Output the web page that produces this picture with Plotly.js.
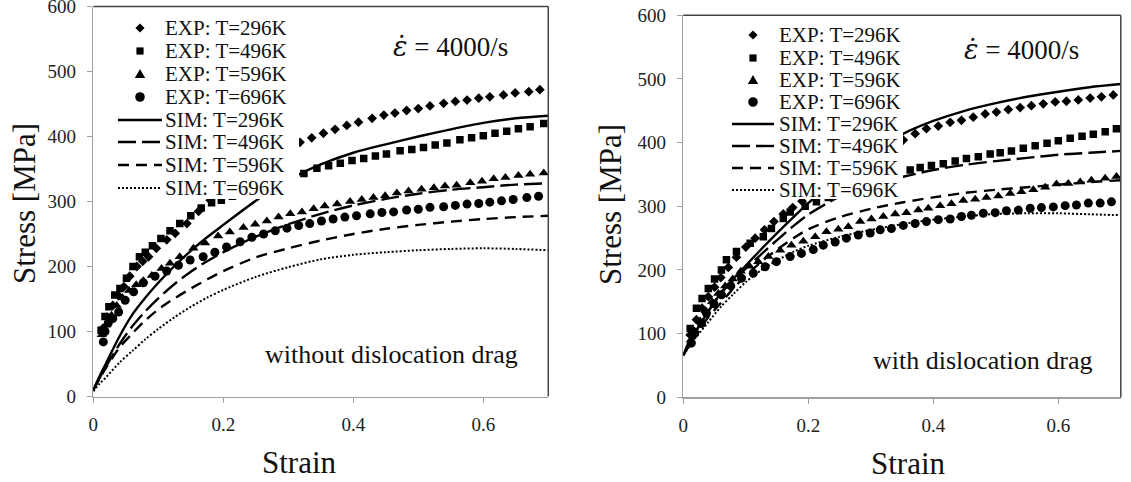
<!DOCTYPE html>
<html>
<head>
<meta charset="utf-8">
<script src="https://cdn.plot.ly/plotly-3.0.1.min.js"></script>
<style>
  html, body { margin: 0; padding: 0; background: #fff; }
  #chart { width: 1131px; height: 482px; }
</style>
</head>
<body>
<div id="chart"></div>
<script>
// ---- Flow stress of the alloy at 4000/s: experiments vs. simulation ----

const temps = ['296K', '496K', '596K', '696K'];

// Simulation curves share one strain grid
const simStrain = [0, 0.01, 0.02, 0.04, 0.06, 0.08, 0.10, 0.125, 0.15, 0.175, 0.2,
                   0.25, 0.3, 0.35, 0.4, 0.45, 0.5, 0.55, 0.6, 0.65, 0.7];

// Left panel: without dislocation drag
const simL296 = [10, 32, 52, 92, 126, 152, 175, 201, 224, 245, 264, 301, 333, 357, 375, 388, 400, 411, 421, 428, 432];
const simL496 = [10, 29, 47, 80, 108, 131, 151, 173, 192, 208, 222, 246, 265, 281, 294, 304, 312, 318, 322, 326, 328];
const simL596 = [10, 28, 45, 75, 97, 117, 134, 151, 166, 180, 193, 214, 228, 240, 250, 258, 264, 269, 273, 276, 278];
const simL696 = [8, 20, 30, 52, 70, 88, 104, 122, 138, 152, 164, 184, 199, 211, 218, 222, 225, 227, 228, 227, 225];

// Right panel: with dislocation drag
const simR296 = [66, 89, 104, 135, 164, 186, 207, 233, 258, 282, 305, 348, 383, 413, 434, 450, 462, 472, 480, 487, 492];
const simR496 = [66, 86, 103, 135, 163, 184, 202, 225, 247, 268, 287, 315, 333, 346, 357, 365, 371, 376, 381, 384, 387];
const simR596 = [66, 82, 97, 126, 148, 171, 191, 213, 232, 249, 264, 283, 296, 306, 314, 321, 326, 330, 334, 338, 341];
const simR696 = [66, 80, 94, 118, 142, 162, 181, 200, 215, 228, 238, 252, 263, 272, 279, 284, 288, 289, 289, 287.5, 286];

// Experimental points (same data in both panels)
const expL296x = [0.015, 0.021, 0.030, 0.039, 0.047, 0.056, 0.067, 0.076, 0.085, 0.097, 0.113, 0.126, 0.144, 0.162, 0.180,
                  0.197, 0.214, 0.231, 0.248, 0.265, 0.283, 0.300, 0.318, 0.336, 0.354, 0.372, 0.390, 0.408, 0.429, 0.447,
                  0.464, 0.482, 0.500, 0.518, 0.539, 0.557, 0.575, 0.593, 0.610, 0.631, 0.649, 0.670, 0.687];
const expL296y = [105, 122, 140, 155, 169, 185, 200, 208, 215, 228, 241, 251, 266, 285, 302,
                  318, 330, 342, 352, 362, 372, 382, 391, 398, 405, 411, 417, 422, 428, 433,
                  436, 440, 443, 447, 451, 454, 456, 459, 461, 464, 467, 469, 472];

const expL496x = [0.012, 0.018, 0.024, 0.033, 0.041, 0.051, 0.061, 0.071, 0.080, 0.091, 0.104, 0.118, 0.133, 0.150, 0.166,
                  0.182, 0.197, 0.214, 0.232, 0.250, 0.268, 0.286, 0.305, 0.324, 0.344, 0.362, 0.380, 0.398, 0.416, 0.434,
                  0.451, 0.472, 0.490, 0.508, 0.526, 0.544, 0.564, 0.582, 0.600, 0.618, 0.636, 0.654, 0.672, 0.693];
const expL496y = [102, 123, 138, 156, 166, 182, 200, 215, 222, 232, 243, 255, 266, 278, 290,
                  298, 302, 308, 314, 320, 326, 332, 338, 343, 351, 355, 359, 363, 366, 370,
                  373, 378, 380, 383, 387, 390, 395, 398, 401, 405, 408, 412, 415, 420];

const expL596x = [0.013, 0.020, 0.028, 0.036, 0.045, 0.055, 0.066, 0.077, 0.090, 0.105, 0.118, 0.133, 0.154, 0.172,
                  0.192, 0.210, 0.231, 0.249, 0.267, 0.285, 0.303, 0.321, 0.339, 0.356, 0.375, 0.395, 0.413, 0.431,
                  0.449, 0.467, 0.485, 0.505, 0.524, 0.541, 0.559, 0.580, 0.598, 0.616, 0.634, 0.654, 0.672, 0.693];
const expL596y = [95, 110, 125, 140, 152, 163, 172, 178, 186, 197, 205, 215, 228, 236,
                  247, 253, 260, 265, 270, 276, 281, 284, 289, 293, 296, 300, 303, 306,
                  309, 313, 316, 319, 321, 324, 325, 329, 331, 335, 337, 340, 342, 344];

const expL696x = [0.0154, 0.018, 0.023, 0.030, 0.039, 0.049, 0.062, 0.077, 0.095, 0.113, 0.131, 0.149, 0.169, 0.187,
                  0.205, 0.226, 0.244, 0.262, 0.280, 0.298, 0.316, 0.333, 0.351, 0.369, 0.387, 0.405, 0.426, 0.444,
                  0.462, 0.482, 0.500, 0.518, 0.539, 0.557, 0.575, 0.593, 0.610, 0.628, 0.646, 0.667, 0.685];
const expL696y = [84, 100, 113, 120, 130, 148, 161, 175, 185, 193, 202, 210, 215, 222,
                  230, 238, 245, 250, 255, 259, 263, 266, 270, 273, 276, 278, 281, 283,
                  284, 287, 288, 291, 292, 294, 296, 297, 299, 301, 303, 306, 308];

const expR296x = [0.011, 0.021, 0.030, 0.040, 0.050, 0.060, 0.072, 0.085, 0.100, 0.115, 0.130, 0.145, 0.160, 0.175,
                  0.190, 0.207, 0.225, 0.243, 0.261, 0.279, 0.297, 0.315, 0.334, 0.352, 0.371, 0.389, 0.408, 0.427,
                  0.445, 0.464, 0.483, 0.501, 0.520, 0.539, 0.557, 0.576, 0.595, 0.613, 0.632, 0.651, 0.669, 0.688];
const expR296y = [98, 122, 140, 158, 173, 188, 204, 220, 236, 250, 263, 276, 288, 298,
                  308, 321, 333, 345, 356, 367, 377, 387, 396, 404, 414, 422, 426, 432,
                  435, 440, 445, 448, 452, 455, 458, 461, 464, 465, 467, 470, 472, 475];

const expR496x = [0.011, 0.021, 0.030, 0.040, 0.050, 0.061, 0.069, 0.085, 0.107, 0.128, 0.141, 0.160, 0.171, 0.195,
                  0.213, 0.232, 0.250, 0.269, 0.288, 0.307, 0.326, 0.344, 0.363, 0.379, 0.397, 0.416, 0.435, 0.453,
                  0.472, 0.491, 0.507, 0.525, 0.544, 0.563, 0.582, 0.600, 0.619, 0.638, 0.656, 0.675, 0.693];
const expR496y = [108, 140, 155, 171, 186, 200, 216, 229, 242, 252, 265, 281, 291, 300,
                  307, 314, 320, 326, 333, 340, 346, 352, 357, 361, 364, 367, 371, 375,
                  378, 382, 384, 387, 391, 395, 399, 403, 407, 410, 413, 417, 422];

const expR596x = [0.012, 0.018, 0.027, 0.036, 0.046, 0.056, 0.067, 0.079, 0.092, 0.106, 0.120, 0.136, 0.155, 0.173,
                  0.192, 0.211, 0.229, 0.248, 0.264, 0.283, 0.301, 0.320, 0.339, 0.357, 0.376, 0.392, 0.411, 0.429,
                  0.448, 0.467, 0.485, 0.504, 0.523, 0.541, 0.560, 0.579, 0.597, 0.616, 0.635, 0.653, 0.675, 0.693];
const expR596y = [90, 104, 120, 136, 150, 163, 175, 186, 198, 206, 213, 221, 231, 239,
                  245, 252, 260, 264, 268, 276, 280, 284, 288, 290, 294, 297, 301, 304,
                  309, 311, 314, 316, 320, 323, 326, 330, 335, 336, 338, 341, 344, 347];

const expR696x = [0.0128, 0.018, 0.029, 0.037, 0.049, 0.061, 0.076, 0.093, 0.112, 0.131, 0.149, 0.171, 0.189, 0.208,
                  0.224, 0.243, 0.261, 0.280, 0.299, 0.315, 0.333, 0.352, 0.371, 0.389, 0.408, 0.427, 0.445, 0.461,
                  0.480, 0.499, 0.517, 0.536, 0.555, 0.573, 0.592, 0.611, 0.629, 0.648, 0.667, 0.685];
const expR696y = [85, 100, 116, 132, 147, 161, 175, 187, 195, 205, 213, 221, 226, 232,
                  239, 244, 250, 255, 258, 263, 265, 270, 273, 276, 279, 280, 284, 286,
                  289, 290, 293, 294, 297, 298, 299, 301, 302, 305, 305, 307];

const xTickVals = [0, 0.2, 0.4, 0.6];
const xTickText = ['0', '0.2', '0.4', '0.6'];
const yTickVals = [0, 100, 200, 300, 400, 500, 600];
const yTickText = ['0', '100', '200', '300', '400', '500', '600'];

// ---- styling ----
const W = 1131, H = 482;
const px = x => x / W;            // pixel -> paper x
const py = y => 1 - y / H;        // pixel -> paper y
const SERIF = "'Liberation Serif', 'Times New Roman', serif";
const INK = '#111111';

const symbols = ['diamond', 'square', 'triangle-up', 'circle'];
const mSizes  = [7.5, 7.5, 9, 9];
const dashes  = ['solid', '18px,6px', '11px,7px', '2px,2px'];
const widths  = [2.4, 2.4, 2.4, 2];

// plot-area frames in pixels
const frames = [
  { x0: 93.3, x1: 548.3, y0: 396.5, y1: 6.5 },
  { x0: 683.3, x1: 1120.8, y0: 397.3, y1: 15.3 }
];

const panels = [
  { sims: [simL296, simL496, simL596, simL696],
    exps: [[expL296x, expL296y], [expL496x, expL496y], [expL596x, expL596y], [expL696x, expL696y]] },
  { sims: [simR296, simR496, simR596, simR696],
    exps: [[expR296x, expR296y], [expR496x, expR496y], [expR596x, expR596y], [expR696x, expR696y]] }
];

const traces = [];
panels.forEach((p, k) => {
  const xa = k === 0 ? 'x' : 'x2', ya = k === 0 ? 'y' : 'y2';
  p.sims.forEach((ys, i) => traces.push({
    type: 'scatter', mode: 'lines', x: simStrain, y: ys, xaxis: xa, yaxis: ya,
    name: 'SIM: T=' + temps[i], showlegend: false, hoverinfo: 'skip',
    line: { color: '#000', width: widths[i], dash: dashes[i], shape: 'spline', smoothing: 0.8 }
  }));
  p.exps.forEach((xy, i) => traces.push({
    type: 'scatter', mode: 'markers', x: xy[0], y: xy[1], xaxis: xa, yaxis: ya,
    name: 'EXP: T=' + temps[i], showlegend: false, hoverinfo: 'skip',
    marker: { symbol: symbols[i], size: mSizes[i], color: '#000', line: { width: 0 } }
  }));
});

function axisPair(f, suffix) {
  const common = {
    showgrid: false, zeroline: false, showline: true, linecolor: '#a0a0a0', linewidth: 1.5,
    ticks: 'outside', ticklen: 5, tickwidth: 1, tickcolor: '#a0a0a0', ticklabeloverflow: 'allow',
    tickfont: { family: SERIF, size: 19, color: '#222' }, fixedrange: true
  };
  return {
    ['xaxis' + suffix]: Object.assign({}, common, {
      domain: [px(f.x0), px(f.x1)], range: [0, 0.7], tickvals: xTickVals, ticktext: xTickText,
      anchor: 'y' + suffix, ticklabelstandoff: 5
    }),
    ['yaxis' + suffix]: Object.assign({}, common, {
      domain: [py(f.y0), py(f.y1)], range: [0, 600], tickvals: yTickVals, ticktext: yTickText,
      anchor: 'x' + suffix, ticklabelstandoff: 7
    })
  };
}

const shapes = [];
const annotations = [];

// dark top / right frame edges
['', '2'].forEach(s => {
  const xr = 'x' + s + ' domain', yr = 'y' + s + ' domain';
  shapes.push({ type: 'line', xref: xr, yref: yr, x0: 0, x1: 1, y0: 1, y1: 1, line: { color: '#444', width: 1.5 } });
  shapes.push({ type: 'line', xref: xr, yref: yr, x0: 1, x1: 1, y0: 0, y1: 1, line: { color: '#444', width: 1.5 } });
});

// key boxes (white, covering points underneath)
const keys = [
  { bg: [114, 299, 14, 199], line: [118, 162], mark: 140, text: 163, rows: [28, 51, 74, 97, 120, 142, 165, 188] },
  { bg: [727, 903, 22, 199], line: [732, 774], mark: 753, text: 777, rows: [35, 58, 80, 102, 124, 146, 168, 190] }
];

function markShape(kind, cx, cy) {
  const base = { xref: 'paper', yref: 'paper', layer: 'above', fillcolor: '#000', line: { width: 0 } };
  if (kind === 'circle') {
    const r = 4.8;
    return Object.assign(base, { type: 'circle', x0: px(cx - r), x1: px(cx + r), y0: py(cy + r), y1: py(cy - r) });
  }
  if (kind === 'square') {
    const r = 3.6;
    return Object.assign(base, { type: 'rect', x0: px(cx - r), x1: px(cx + r), y0: py(cy + r), y1: py(cy - r) });
  }
  let pts;
  if (kind === 'diamond') {
    const r = 4.6;
    pts = [[cx, cy - r], [cx + r, cy], [cx, cy + r], [cx - r, cy]];
  } else {
    pts = [[cx, cy - 5], [cx + 5.2, cy + 4], [cx - 5.2, cy + 4]];
  }
  const path = 'M' + pts.map(p => px(p[0]) + ',' + py(p[1])).join('L') + 'Z';
  return Object.assign(base, { type: 'path', path: path });
}

keys.forEach(k => {
  shapes.push({ type: 'rect', xref: 'paper', yref: 'paper', layer: 'above',
    x0: px(k.bg[0]), x1: px(k.bg[1]), y0: py(k.bg[3]), y1: py(k.bg[2]),
    fillcolor: '#fff', line: { width: 0 } });
  temps.forEach((t, i) => {
    const yE = k.rows[i], yS = k.rows[i + 4];
    shapes.push(markShape(symbols[i] === 'triangle-up' ? 'triangle' : symbols[i], k.mark, yE));
    shapes.push({ type: 'line', xref: 'paper', yref: 'paper', layer: 'above',
      x0: px(k.line[0]), x1: px(k.line[1]), y0: py(yS), y1: py(yS),
      line: { color: '#000', width: widths[i], dash: dashes[i] } });
    annotations.push({ xref: 'paper', yref: 'paper', x: px(k.text), y: py(yE), xanchor: 'left', yanchor: 'middle',
      text: 'EXP: T=' + t, showarrow: false, font: { family: SERIF, size: 21, color: INK } });
    annotations.push({ xref: 'paper', yref: 'paper', x: px(k.text), y: py(yS), xanchor: 'left', yanchor: 'middle',
      text: 'SIM: T=' + t, showarrow: false, font: { family: SERIF, size: 21, color: INK } });
  });
});

// text labels
const label = (text, x, y, size, extra) => annotations.push(Object.assign({
  xref: 'paper', yref: 'paper', x: px(x), y: py(y), xanchor: 'center', yanchor: 'middle',
  text: text, showarrow: false, font: { family: SERIF, size: size, color: INK }
}, extra || {}));

// strain-rate tag: dotted epsilon set in DejaVu Serif so the combining dot sits on the glyph
const rateText = '<span style="font-family:\'DejaVu Serif\'"><i>\u03B5\u0307</i></span> = 4000/s';
label(rateText, 391, 46, 27, { xanchor: 'left' });
label(rateText, 962, 50, 27, { xanchor: 'left' });
label('without dislocation drag', 391, 354, 26);
label('with dislocation drag', 983, 360, 26);
label('Strain', 299, 462, 31);
label('Strain', 908, 463, 31);
label('Stress [MPa]', 24, 204, 31, { textangle: -90 });
label('Stress [MPa]', 610, 205, 31, { textangle: -90 });

const layout = Object.assign({
  width: W, height: H,
  margin: { l: 0, r: 0, t: 0, b: 0 },
  paper_bgcolor: '#fff', plot_bgcolor: '#fff',
  showlegend: false,
  font: { family: SERIF, color: INK },
  shapes: shapes,
  annotations: annotations
}, axisPair(frames[0], ''), axisPair(frames[1], '2'));

Plotly.newPlot('chart', traces, layout, { staticPlot: true, displayModeBar: false });
</script>
</body>
</html>
